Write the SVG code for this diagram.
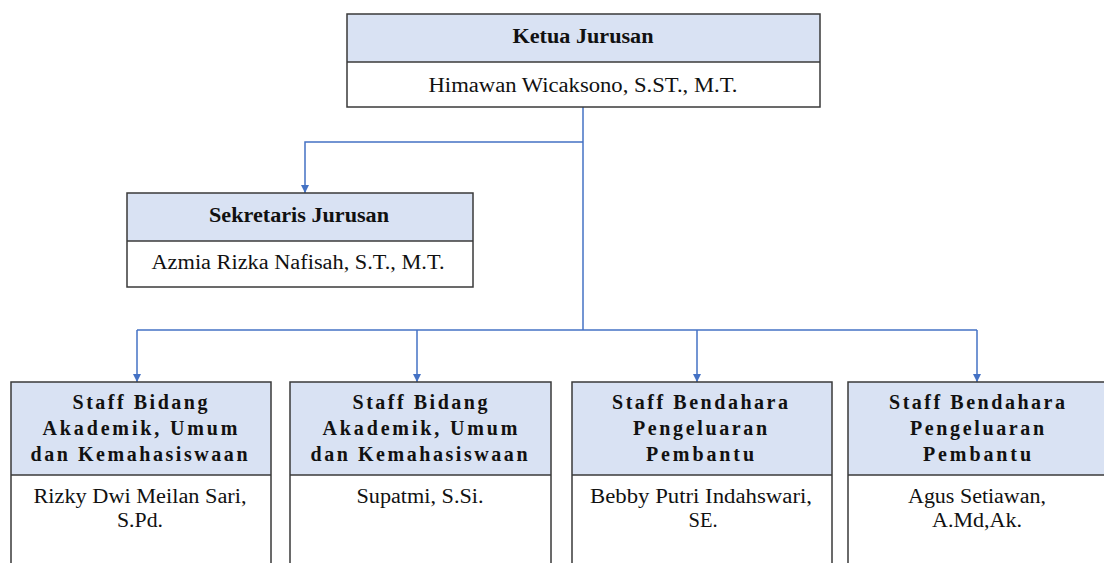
<svg xmlns="http://www.w3.org/2000/svg" width="1104" height="563" viewBox="0 0 1104 563">
<style>
.hd{fill:#D9E2F3;stroke:none}
.bd{fill:#FFFFFF;stroke:none}
.frame{fill:none;stroke:#3A3A3A;stroke-width:1.5}
.dv{stroke:#3A3A3A;stroke-width:1.5}
.t{font-family:"Liberation Serif","Times New Roman",serif;fill:#111;text-anchor:middle}
.b{font-weight:bold;font-size:20px}
.n{font-size:20px}
.s{font-weight:bold;font-size:20px}
.c{fill:none;stroke:#4472C4;stroke-width:1.5}
</style>
<defs>
<marker id="ah" viewBox="0 0 10 10" refX="10" refY="5" markerWidth="8" markerHeight="8" markerUnits="userSpaceOnUse" orient="auto">
<path d="M0,0 L10,5 L0,10 Z" fill="#4472C4"/>
</marker>
</defs>
<rect width="1104" height="563" fill="#FFFFFF"/>
<g id="connectors">
<path class="c" d="M583,107 V330"/>
<path class="c" d="M583,142 H305 V193" marker-end="url(#ah)"/>
<path class="c" d="M137,330 H977"/>
<path class="c" d="M137,330 V382" marker-end="url(#ah)"/>
<path class="c" d="M417,330 V382" marker-end="url(#ah)"/>
<path class="c" d="M697,330 V382" marker-end="url(#ah)"/>
<path class="c" d="M977,330 V382" marker-end="url(#ah)"/>
</g>
<g id="ketua">
<rect class="hd" x="347" y="14" width="473" height="48"/>
<rect class="bd" x="347" y="62" width="473" height="45"/>
<line class="dv" x1="347" y1="62" x2="820" y2="62"/>
<rect class="frame" x="347" y="14" width="473" height="93"/>
<text class="t b" x="583" y="43" textLength="141" lengthAdjust="spacingAndGlyphs">Ketua Jurusan</text>
<text class="t n" x="583" y="92" textLength="309" lengthAdjust="spacingAndGlyphs">Himawan Wicaksono, S.ST., M.T.</text>
</g>
<g id="sekretaris">
<rect class="hd" x="127" y="193" width="346" height="48"/>
<rect class="bd" x="127" y="241" width="346" height="46"/>
<line class="dv" x1="127" y1="241" x2="473" y2="241"/>
<rect class="frame" x="127" y="193" width="346" height="94"/>
<text class="t b" x="299" y="222" textLength="180" lengthAdjust="spacingAndGlyphs">Sekretaris Jurusan</text>
<text class="t n" x="298" y="269" textLength="293" lengthAdjust="spacingAndGlyphs">Azmia Rizka Nafisah, S.T., M.T.</text>
</g>
<g id="staff1">
<rect class="hd" x="11" y="382" width="260" height="93"/>
<rect class="bd" x="11" y="475" width="260" height="100"/>
<line class="dv" x1="11" y1="475" x2="271" y2="475"/>
<rect class="frame" x="11" y="382" width="260" height="200"/>
<text class="t s" x="140" y="409" textLength="135" lengthAdjust="spacing">Staff Bidang</text>
<text class="t s" x="140" y="435" textLength="195" lengthAdjust="spacing">Akademik, Umum</text>
<text class="t s" x="139" y="461" textLength="217" lengthAdjust="spacing">dan Kemahasiswaan</text>
<text class="t n" x="140" y="503" textLength="213" lengthAdjust="spacingAndGlyphs">Rizky Dwi Meilan Sari,</text>
<text class="t n" x="140" y="527" textLength="46" lengthAdjust="spacingAndGlyphs">S.Pd.</text>
</g>
<g id="staff2">
<rect class="hd" x="290" y="382" width="261" height="93"/>
<rect class="bd" x="290" y="475" width="261" height="100"/>
<line class="dv" x1="290" y1="475" x2="551" y2="475"/>
<rect class="frame" x="290" y="382" width="261" height="200"/>
<text class="t s" x="420" y="409" textLength="135" lengthAdjust="spacing">Staff Bidang</text>
<text class="t s" x="420" y="435" textLength="195" lengthAdjust="spacing">Akademik, Umum</text>
<text class="t s" x="419" y="461" textLength="217" lengthAdjust="spacing">dan Kemahasiswaan</text>
<text class="t n" x="420" y="503" textLength="127" lengthAdjust="spacingAndGlyphs">Supatmi, S.Si.</text>
</g>
<g id="staff3">
<rect class="hd" x="572" y="382" width="260" height="93"/>
<rect class="bd" x="572" y="475" width="260" height="100"/>
<line class="dv" x1="572" y1="475" x2="832" y2="475"/>
<rect class="frame" x="572" y="382" width="260" height="200"/>
<text class="t s" x="700" y="409" textLength="176" lengthAdjust="spacing">Staff Bendahara</text>
<text class="t s" x="700" y="435" textLength="134" lengthAdjust="spacing">Pengeluaran</text>
<text class="t s" x="700" y="461" textLength="108" lengthAdjust="spacing">Pembantu</text>
<text class="t n" x="701" y="503" textLength="222" lengthAdjust="spacingAndGlyphs">Bebby Putri Indahswari,</text>
<text class="t n" x="703" y="527" textLength="29" lengthAdjust="spacingAndGlyphs">SE.</text>
</g>
<g id="staff4">
<rect class="hd" x="848" y="382" width="260" height="93"/>
<rect class="bd" x="848" y="475" width="260" height="100"/>
<line class="dv" x1="848" y1="475" x2="1108" y2="475"/>
<rect class="frame" x="848" y="382" width="260" height="200"/>
<text class="t s" x="977" y="409" textLength="176" lengthAdjust="spacing">Staff Bendahara</text>
<text class="t s" x="977" y="435" textLength="134" lengthAdjust="spacing">Pengeluaran</text>
<text class="t s" x="977" y="461" textLength="108" lengthAdjust="spacing">Pembantu</text>
<text class="t n" x="977" y="503" textLength="138" lengthAdjust="spacingAndGlyphs">Agus Setiawan,</text>
<text class="t n" x="977" y="527" textLength="90" lengthAdjust="spacingAndGlyphs">A.Md,Ak.</text>
</g>
</svg>
